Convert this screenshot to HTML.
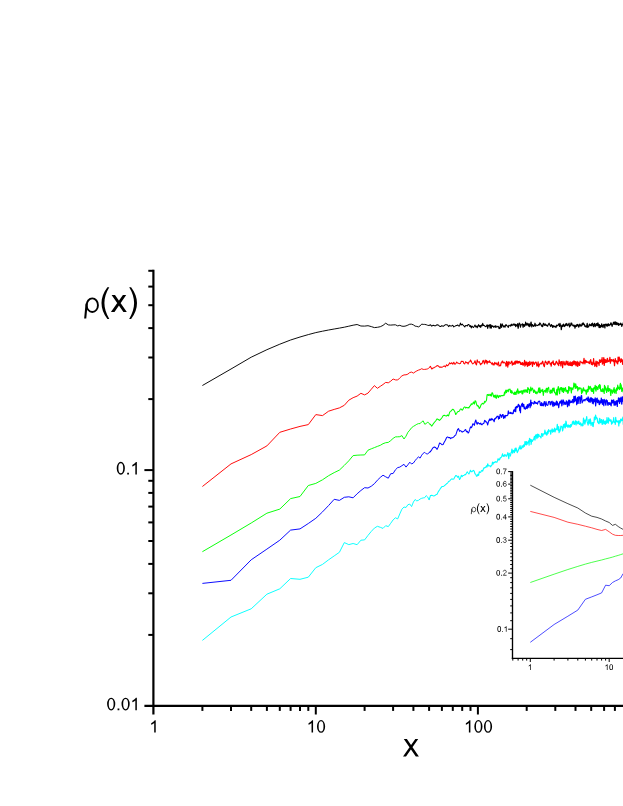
<!DOCTYPE html>
<html><head><meta charset="utf-8"><title>rho(x)</title>
<style>html,body{margin:0;padding:0;background:#fff;font-family:"Liberation Sans",sans-serif;}svg{display:block;}path.sd{fill:none;stroke:#000;stroke-width:88px;stroke-linejoin:miter;stroke-miterlimit:10;}text{font-family:"Liberation Sans",sans-serif;fill:#000;text-rendering:geometricPrecision;}</style></head><body>
<svg width="623" height="806" viewBox="0 0 623 806" role="img" aria-label="rho(x) versus X, log-log plot with inset">
<rect width="623" height="806" fill="#fff"/>
<polyline points="202.4,385.5 231.0,369.0 251.2,357.2 266.9,349.7 279.8,344.2 290.6,340.0 300.0,337.0 308.3,334.6 315.8,332.6 322.5,331.2 328.6,330.0 334.2,329.0 339.4,328.1 344.3,327.2 348.8,326.2 353.1,325.2 357.1,324.5 360.9,326.0 364.6,326.1 368.0,325.7 371.3,326.6 374.4,327.6 377.4,327.3 380.3,326.7 383.0,325.4 385.7,323.2 388.3,324.9 390.7,325.1 393.1,324.9 395.4,324.8 397.7,325.9 399.8,325.3 401.9,326.2 404.0,326.3 406.0,325.9 407.9,325.1 409.8,324.2 411.6,324.2 413.4,324.9 415.1,326.1 416.8,326.4 418.5,326.9 420.1,325.9 421.7,324.1 423.2,324.4 424.7,324.4 426.2,324.7 427.7,325.3 429.1,325.5" fill="none" stroke="#000000" stroke-width="0.95" stroke-linejoin="round"/>
<polyline points="429.1,325.5 430.5,324.8 431.8,326.2 433.2,325.2 434.5,325.7 435.8,325.7 437.1,324.7 438.3,325.0 439.5,326.2 440.7,326.5 441.9,325.6 443.1,326.4 444.2,325.6 445.4,324.7 446.5,324.8 447.6,324.9 448.6,326.6 449.7,325.4 450.7,326.1 451.8,325.9 452.8,325.3 453.8,326.9 454.8,326.4 455.7,325.7 456.7,325.6 457.6,325.0 458.6,325.9 459.5,326.1 460.4,323.1 461.3,325.0 462.2,324.1 463.1,325.1 463.9,325.9 464.8,327.0 465.6,325.4 466.5,325.6 467.3,326.0 468.1,324.4 468.9,324.4 469.7,326.6" fill="none" stroke="#000000" stroke-width="1.02" stroke-linejoin="round"/>
<polyline points="469.7,326.6 470.5,325.7 471.3,327.9 472.0,326.0 472.8,326.9 473.5,327.5 474.3,326.3 475.0,325.0 475.8,327.0 476.5,326.1 477.2,327.7 477.9,325.7 478.6,324.7 479.3,326.8 480.0,325.5 480.7,327.4 481.3,325.1 482.0,325.9 482.7,323.3 483.3,325.5 484.0,325.4 484.6,325.8 485.2,326.5 485.9,326.7 486.5,325.9 487.1,324.7 487.7,328.4 488.4,325.2 489.0,325.9 489.6,324.7 490.1,328.2 490.7,324.5 491.3,328.1 491.9,325.5 492.5,326.4 493.0,326.0 493.6,327.2 494.2,326.8 494.7,326.2 495.3,327.3 495.8,325.6 496.4,327.1 496.9,326.7 497.5,326.7 498.0,326.3 498.5,326.6 499.0,328.7 499.6,327.3 500.1,328.4 500.6,323.9 501.1,326.6 501.6,327.4 502.1,323.8 502.6,325.1 503.1,326.1 503.6,327.0 504.1,325.7 504.5,325.9 505.0,327.3 505.5,325.6 506.0,324.5 506.5,325.6 506.9,325.8 507.4,326.1 507.8,326.2 508.3,327.5 508.8,325.3 509.2,325.8 509.7,325.2" fill="none" stroke="#000000" stroke-width="1.1" stroke-linejoin="round"/>
<polyline points="509.7,325.2 510.1,325.3 510.6,326.1 511.0,324.8 511.4,324.2 511.9,325.6 512.3,325.3 512.7,324.9 513.2,324.0 513.6,324.9 514.0,324.3 514.4,324.1 514.9,325.5 515.3,324.4 515.7,326.7 516.1,324.5 516.5,325.0 516.9,325.5 517.3,326.1 517.7,323.7 518.1,328.3 518.5,326.9 518.9,324.6 519.3,323.0 519.7,323.9 520.1,324.0 520.5,327.1 520.8,325.1 521.2,324.9 521.6,324.7 522.0,324.7 522.4,323.8 522.7,325.2 523.1,327.3 523.5,324.3 523.8,325.9 524.2,325.1 524.6,326.4 524.9,324.3 525.3,325.2 525.6,322.0 526.0,325.0 526.4,325.1 526.7,324.1 527.1,323.2 527.4,323.8 527.8,325.0 528.1,325.4 528.5,323.9 528.8,326.1 529.1,323.8 529.5,324.1 529.8,326.7 530.1,325.3 530.5,325.4 530.8,323.0 531.1,322.0 531.8,326.9 532.5,324.5 533.1,325.3 533.7,326.4 534.4,325.6 535.0,323.2 535.6,326.2 536.2,325.0 536.9,325.1 537.5,325.6 538.1,325.3 538.7,324.4 539.3,325.0 539.8,322.9 540.4,323.6 541.0,324.8 541.6,326.2 542.1,325.2 542.7,326.7 543.3,323.5 543.8,323.3 544.4,325.4 544.9,325.0 545.5,324.1 546.0,325.5 546.5,325.0 547.1,325.9 547.6,326.2 548.1,324.8 548.6,324.0 549.1,323.2 549.6,324.9" fill="none" stroke="#000000" stroke-width="1.17" stroke-linejoin="round"/>
<polyline points="549.6,324.9 550.2,325.5 550.7,326.5 551.2,324.6 551.7,325.0 552.1,325.6 552.6,327.4 553.1,325.5 553.6,326.8 554.1,326.1 554.6,326.5 555.0,326.8 555.5,326.7 556.0,327.5 556.4,325.2 556.9,326.0 557.3,325.6 557.8,325.2 558.3,325.0 558.7,324.0 559.1,324.8 559.6,326.5 560.0,323.4 560.5,325.6 560.9,325.8 561.3,329.7 561.8,326.1 562.2,325.0 562.6,326.5 563.0,326.0 563.5,324.1 563.9,325.7 564.3,326.3 564.7,326.5 565.1,325.1 565.5,324.0 565.9,325.5 566.3,324.8 566.7,323.5 567.1,324.8 567.5,325.7 567.9,325.1 568.3,324.7 568.7,324.3 569.1,323.2 569.5,327.0 569.8,326.1 570.2,326.1 570.6,325.3 571.0,323.0 571.4,324.7 571.7,323.1 572.1,325.1 572.5,325.2 572.8,325.3 573.2,326.0 573.6,325.6 573.9,325.0 574.3,326.4 574.6,325.7 575.0,328.2 575.3,325.3 575.7,326.7 576.1,326.5 576.4,326.4 576.7,324.8 577.1,324.6 577.4,325.6 577.8,324.4 578.1,325.6 578.5,326.7 578.8,327.0 579.1,325.1 579.5,325.5 579.8,324.2 580.1,325.9 580.6,325.0 581.1,326.1 581.6,325.8 582.1,323.7 582.6,324.8 583.0,322.9 583.5,323.3 584.0,324.7 584.4,324.5 584.9,326.4 585.4,326.6 585.8,326.0 586.3,327.1 586.7,326.2 587.2,323.3 587.6,327.3 588.1,326.2 588.5,326.9 588.9,325.9 589.4,324.1 589.8,324.7 590.2,325.6 590.7,325.0 591.1,325.4 591.5,323.9 591.9,325.9 592.4,323.2 592.8,324.6 593.2,324.4 593.6,326.6 594.0,324.8 594.4,323.3 594.8,323.9 595.2,326.6 595.6,325.1 596.0,325.0 596.4,323.7 596.8,325.6 597.2,323.5 597.6,325.6 597.9,322.9 598.3,324.2 598.7,325.7 599.1,327.6 599.5,324.6 599.8,326.5 600.2,327.5 600.6,325.6 601.0,326.7 601.3,326.4 601.7,323.9 602.1,326.7 602.4,326.4 602.8,325.3 603.1,327.5 603.5,324.9 603.8,324.5 604.2,325.6 604.5,325.4 604.9,327.9 605.2,324.2 605.6,324.7 605.9,324.9 606.3,324.5 606.6,326.0 607.0,324.2 607.3,325.1 607.6,326.2 608.0,325.7 608.3,323.9 608.6,323.9 609.1,325.7 609.5,324.8 609.9,324.9 610.4,324.7 610.8,322.8 611.2,323.2 611.6,324.7 612.1,326.4 612.5,324.7 612.9,324.5 613.3,322.7 613.7,323.9 614.1,321.8 614.5,323.4 614.9,324.4 615.3,322.4 615.7,322.0 616.1,324.6 616.5,324.4 616.9,322.5 617.3,323.8 617.7,324.6 618.1,323.5 618.5,325.3 618.8,323.4 619.2,324.8 619.6,324.3 620.0,324.7 620.4,324.5 620.7,323.1 621.1,324.3 621.5,324.2 621.8,326.4 622.2,324.9 622.6,324.2 622.9,324.6 623.3,322.7 623.6,324.6 624.0,326.4 624.3,323.6 624.7,324.6 625.0,323.4 625.4,326.6 625.7,323.3 626.1,325.9 626.4,325.2 626.8,323.9 627.1,323.4 627.4,326.3 627.8,323.8 628.1,327.1 628.4,325.3 628.8,325.6" fill="none" stroke="#000000" stroke-width="1.22" stroke-linejoin="round"/>
<polyline points="202.4,486.5 231.0,463.9 251.2,454.6 266.9,445.9 279.8,432.3 290.6,429.0 300.0,426.4 308.3,424.6 315.8,414.6 322.5,415.6 328.6,411.2 334.2,409.4 339.4,407.9 344.3,405.3 348.8,400.2 353.1,397.7 357.1,396.1 360.9,393.3 364.6,394.9 368.0,393.1 371.3,389.2 374.4,385.6 377.4,388.3 380.3,386.3 383.0,384.5 385.7,382.4 388.3,382.8 390.7,381.2 393.1,379.0 395.4,379.9 397.7,380.0 399.8,377.9 401.9,375.9 404.0,374.9 406.0,374.8 407.9,374.1 409.8,372.5 411.6,372.1 413.4,373.1 415.1,371.9 416.8,370.9 418.5,370.1 420.1,369.6 421.7,368.7 423.2,369.4 424.7,369.4 426.2,369.2 427.7,369.0 429.1,367.6" fill="none" stroke="#ff0000" stroke-width="0.95" stroke-linejoin="round"/>
<polyline points="429.1,367.6 430.5,366.4 431.8,369.0 433.2,367.9 434.5,367.4 435.8,366.6 437.1,365.6 438.3,365.9 439.5,367.2 440.7,366.9 441.9,367.2 443.1,366.6 444.2,365.8 445.4,366.9 446.5,364.8 447.6,365.8 448.6,364.7 449.7,362.8 450.7,363.8 451.8,362.7 452.8,364.3 453.8,362.3 454.8,364.2 455.7,363.7 456.7,362.0 457.6,363.1 458.6,363.2 459.5,363.7 460.4,363.6 461.3,361.3 462.2,361.6 463.1,361.3 463.9,363.6 464.8,363.9 465.6,361.7 466.5,362.7 467.3,362.5 468.1,364.1 468.9,361.9 469.7,362.1" fill="none" stroke="#ff0000" stroke-width="1.02" stroke-linejoin="round"/>
<polyline points="469.7,362.1 470.5,360.0 471.3,361.5 472.0,363.0 472.8,363.9 473.5,363.4 474.3,362.6 475.0,360.7 475.8,363.9 476.5,364.8 477.2,359.9 477.9,361.9 478.6,362.2 479.3,361.6 480.0,363.6 480.7,364.8 481.3,363.5 482.0,363.6 482.7,361.4 483.3,360.4 484.0,362.6 484.6,364.0 485.2,360.0 485.9,362.3 486.5,360.4 487.1,364.0 487.7,361.2 488.4,362.1 489.0,362.4 489.6,360.7 490.1,362.3 490.7,362.6 491.3,363.1 491.9,364.1 492.5,362.8 493.0,364.9 493.6,363.7 494.2,364.9 494.7,362.4 495.3,363.1 495.8,363.9 496.4,363.0 496.9,364.5 497.5,365.0 498.0,363.1 498.5,362.0 499.0,366.2 499.6,365.6 500.1,365.1 500.6,365.8 501.1,362.7 501.6,362.9 502.1,361.2 502.6,361.0 503.1,363.0 503.6,362.8 504.1,362.1 504.5,362.8 505.0,363.0 505.5,363.2 506.0,366.3 506.5,361.4 506.9,365.8 507.4,362.0 507.8,367.2 508.3,361.7 508.8,364.8 509.2,361.9 509.7,363.0" fill="none" stroke="#ff0000" stroke-width="1.1" stroke-linejoin="round"/>
<polyline points="509.7,363.0 510.1,363.6 510.6,363.2 511.0,362.5 511.4,361.6 511.9,361.1 512.3,365.2 512.7,363.6 513.2,362.9 513.6,364.4 514.0,364.3 514.4,362.6 514.9,361.4 515.3,364.1 515.7,361.1 516.1,362.2 516.5,362.9 516.9,360.8 517.3,362.9 517.7,361.3 518.1,363.3 518.5,361.6 518.9,362.5 519.3,361.3 519.7,362.6 520.1,362.2 520.5,364.3 520.8,362.4 521.2,364.5 521.6,363.8 522.0,364.4 522.4,362.5 522.7,362.8 523.1,365.3 523.5,363.5 523.8,364.3 524.2,363.0 524.6,360.4 524.9,366.1 525.3,365.3 525.6,362.3 526.0,361.8 526.4,364.7 526.7,364.0 527.1,362.2 527.4,366.4 527.8,363.6 528.1,364.8 528.5,362.4 528.8,365.6 529.1,363.8 529.5,365.2 529.8,361.4 530.1,363.8 530.5,364.6 530.8,362.8 531.1,363.0 531.8,362.0 532.5,366.4 533.1,361.8 533.7,362.9 534.4,364.4 535.0,362.8 535.6,362.0 536.2,362.3 536.9,366.2 537.5,365.6 538.1,361.9 538.7,366.9 539.3,365.0 539.8,363.9 540.4,364.0 541.0,363.0 541.6,364.0 542.1,362.6 542.7,361.2 543.3,363.8 543.8,365.6 544.4,366.7 544.9,362.7 545.5,361.0 546.0,362.5 546.5,362.6 547.1,364.5 547.6,364.1 548.1,361.4 548.6,363.0 549.1,361.2 549.6,362.4" fill="none" stroke="#ff0000" stroke-width="1.17" stroke-linejoin="round"/>
<polyline points="549.6,362.4 550.2,364.0 550.7,363.5 551.2,366.2 551.7,362.3 552.1,362.3 552.6,362.9 553.1,360.9 553.6,364.5 554.1,363.5 554.6,365.0 555.0,364.5 555.5,364.1 556.0,362.0 556.4,361.3 556.9,362.7 557.3,362.9 557.8,364.2 558.3,364.8 558.7,365.6 559.1,359.8 559.6,363.4 560.0,361.8 560.5,363.1 560.9,366.0 561.3,361.6 561.8,362.2 562.2,361.5 562.6,367.6 563.0,363.3 563.5,364.1 563.9,361.4 564.3,362.7 564.7,365.0 565.1,365.0 565.5,364.5 565.9,362.0 566.3,361.1 566.7,362.1 567.1,364.6 567.5,363.6 567.9,361.4 568.3,365.3 568.7,363.3 569.1,364.4 569.5,362.8 569.8,365.5 570.2,361.9 570.6,364.3 571.0,365.5 571.4,365.7 571.7,362.3 572.1,363.4 572.5,365.6 572.8,361.7 573.2,362.7 573.6,364.3 573.9,360.8 574.3,363.3 574.6,361.3 575.0,364.6 575.3,361.7 575.7,362.3 576.1,365.8 576.4,364.3 576.7,363.2 577.1,361.3 577.4,364.9 577.8,366.5 578.1,362.2 578.5,364.9 578.8,364.1 579.1,363.0 579.5,365.5 579.8,364.4 580.1,361.2 580.6,362.0 581.1,362.0 581.6,362.8 582.1,362.2 582.6,362.5 583.0,363.8 583.5,362.6 584.0,358.3 584.4,361.7 584.9,363.8 585.4,360.3 585.8,360.5 586.3,362.4 586.7,361.4 587.2,362.1 587.6,362.2 588.1,362.6 588.5,362.0 588.9,362.9 589.4,363.6 589.8,361.5 590.2,361.0 590.7,359.6 591.1,363.9 591.5,364.3 591.9,362.0 592.4,364.8 592.8,363.3 593.2,364.2 593.6,358.5 594.0,363.7 594.4,363.0 594.8,366.3 595.2,365.0 595.6,363.7 596.0,361.2 596.4,365.9 596.8,366.6 597.2,361.5 597.6,363.0 597.9,362.5 598.3,363.6 598.7,362.6 599.1,365.3 599.5,359.8 599.8,360.3 600.2,360.6 600.6,362.5 601.0,359.9 601.3,361.1 601.7,361.7 602.1,357.6 602.4,364.2 602.8,362.6 603.1,363.2 603.5,359.8 603.8,357.7 604.2,365.5 604.5,363.5 604.9,359.4 605.2,361.1 605.6,362.5 605.9,359.9 606.3,361.9 606.6,360.5 607.0,362.5 607.3,358.3 607.6,359.0 608.0,360.6 608.3,361.5 608.6,361.2 609.1,361.3 609.5,360.6 609.9,357.3 610.4,363.1 610.8,359.9 611.2,361.1 611.6,359.5 612.1,360.4 612.5,360.7 612.9,361.0 613.3,359.3 613.7,361.7 614.1,360.7 614.5,365.7 614.9,360.7 615.3,358.6 615.7,361.6 616.1,361.8 616.5,360.9 616.9,362.8 617.3,363.4 617.7,363.9 618.1,357.0 618.5,361.7 618.8,360.3 619.2,357.0 619.6,359.3 620.0,361.0 620.4,360.3 620.7,362.3 621.1,358.7 621.5,359.6 621.8,361.4 622.2,359.9 622.6,364.3 622.9,360.3 623.3,361.4 623.6,360.1 624.0,358.2 624.3,361.5 624.7,358.4 625.0,360.7 625.4,363.0 625.7,362.6 626.1,362.7 626.4,364.3 626.8,361.6 627.1,360.5 627.4,363.3 627.8,364.5 628.1,363.5 628.4,364.5 628.8,361.6" fill="none" stroke="#ff0000" stroke-width="1.22" stroke-linejoin="round"/>
<polyline points="202.4,551.7 231.0,535.0 251.2,523.0 266.9,513.2 279.8,509.1 290.6,498.6 300.0,496.5 308.3,485.5 315.8,483.4 322.5,479.8 328.6,475.7 334.2,472.6 339.4,470.1 344.3,465.4 348.8,460.8 353.1,455.6 357.1,455.2 360.9,455.0 364.6,454.9 368.0,450.2 371.3,448.8 374.4,447.6 377.4,446.4 380.3,445.3 383.0,443.7 385.7,442.7 388.3,442.4 390.7,440.6 393.1,438.4 395.4,436.9 397.7,436.8 399.8,436.7 401.9,435.6 404.0,439.0 406.0,436.2 407.9,432.3 409.8,430.1 411.6,427.7 413.4,426.4 415.1,425.4 416.8,424.3 418.5,423.6 420.1,423.6 421.7,421.8 423.2,420.9 424.7,424.2 426.2,423.7 427.7,421.9 429.1,423.6" fill="none" stroke="#00ff00" stroke-width="0.95" stroke-linejoin="round"/>
<polyline points="429.1,423.6 430.5,424.5 431.8,426.1 433.2,423.9 434.5,422.3 435.8,420.7 437.1,418.9 438.3,419.5 439.5,420.4 440.7,419.2 441.9,417.7 443.1,415.7 444.2,415.2 445.4,415.8 446.5,416.0 447.6,415.0 448.6,415.9 449.7,412.1 450.7,411.3 451.8,410.1 452.8,409.2 453.8,410.0 454.8,411.7 455.7,414.6 456.7,413.2 457.6,411.7 458.6,411.6 459.5,410.8 460.4,409.1 461.3,409.1 462.2,410.3 463.1,409.1 463.9,407.4 464.8,406.8 465.6,408.1 466.5,407.3 467.3,407.9 468.1,407.5 468.9,408.0 469.7,406.0" fill="none" stroke="#00ff00" stroke-width="1.02" stroke-linejoin="round"/>
<polyline points="469.7,406.0 470.5,405.7 471.3,403.7 472.0,404.5 472.8,403.5 473.5,402.1 474.3,404.1 475.0,400.8 475.8,401.3 476.5,404.0 477.2,405.9 477.9,405.5 478.6,406.6 479.3,408.5 480.0,407.6 480.7,405.8 481.3,404.4 482.0,403.8 482.7,403.3 483.3,404.0 484.0,403.3 484.6,401.3 485.2,402.2 485.9,401.2 486.5,400.2 487.1,394.8 487.7,394.6 488.4,395.5 489.0,394.2 489.6,395.1 490.1,395.6 490.7,394.2 491.3,396.2 491.9,392.8 492.5,392.8 493.0,394.5 493.6,396.9 494.2,395.4 494.7,397.3 495.3,395.1 495.8,397.9 496.4,398.3 496.9,395.1 497.5,395.4 498.0,397.1 498.5,397.7 499.0,395.5 499.6,395.7 500.1,396.8 500.6,395.7 501.1,395.6 501.6,395.9 502.1,395.5 502.6,395.6 503.1,395.7 503.6,395.1 504.1,395.4 504.5,392.1 505.0,394.0 505.5,391.1 506.0,390.1 506.5,392.6 506.9,390.8 507.4,390.1 507.8,390.7 508.3,391.7 508.8,389.2 509.2,389.6 509.7,388.9" fill="none" stroke="#00ff00" stroke-width="1.1" stroke-linejoin="round"/>
<polyline points="509.7,388.9 510.1,389.4 510.6,392.5 511.0,390.6 511.4,393.1 511.9,390.9 512.3,392.4 512.7,392.9 513.2,393.3 513.6,394.1 514.0,394.3 514.4,392.1 514.9,394.5 515.3,392.3 515.7,394.2 516.1,394.4 516.5,391.3 516.9,392.2 517.3,390.4 517.7,388.9 518.1,393.6 518.5,391.1 518.9,393.0 519.3,393.0 519.7,391.5 520.1,391.2 520.5,392.4 520.8,391.4 521.2,391.3 521.6,390.8 522.0,393.7 522.4,390.9 522.7,393.9 523.1,392.6 523.5,390.3 523.8,391.2 524.2,389.9 524.6,391.2 524.9,392.4 525.3,391.2 525.6,389.9 526.0,390.0 526.4,390.8 526.7,392.0 527.1,389.6 527.4,392.4 527.8,387.5 528.1,388.7 528.5,388.3 528.8,389.7 529.1,389.3 529.5,393.5 529.8,391.7 530.1,389.7 530.5,389.9 530.8,387.0 531.1,390.8 531.8,389.0 532.5,388.1 533.1,390.1 533.7,392.5 534.4,390.0 535.0,391.2 535.6,393.4 536.2,391.8 536.9,393.8 537.5,392.2 538.1,391.8 538.7,388.0 539.3,392.6 539.8,387.8 540.4,392.7 541.0,390.2 541.6,390.2 542.1,391.4 542.7,389.4 543.3,395.3 543.8,392.0 544.4,390.7 544.9,390.4 545.5,392.1 546.0,389.5 546.5,388.3 547.1,392.6 547.6,388.4 548.1,388.5 548.6,387.4 549.1,391.5 549.6,391.3" fill="none" stroke="#00ff00" stroke-width="1.17" stroke-linejoin="round"/>
<polyline points="549.6,391.3 550.2,393.4 550.7,390.2 551.2,390.1 551.7,392.8 552.1,392.8 552.6,388.6 553.1,388.1 553.6,390.8 554.1,388.2 554.6,392.7 555.0,392.8 555.5,393.0 556.0,395.0 556.4,392.0 556.9,389.3 557.3,395.0 557.8,389.1 558.3,386.6 558.7,389.7 559.1,389.7 559.6,393.7 560.0,388.2 560.5,389.1 560.9,387.5 561.3,389.8 561.8,387.6 562.2,391.7 562.6,388.7 563.0,388.5 563.5,392.4 563.9,388.2 564.3,390.9 564.7,388.9 565.1,389.2 565.5,387.7 565.9,391.3 566.3,391.0 566.7,390.2 567.1,392.0 567.5,390.7 567.9,393.3 568.3,392.5 568.7,386.7 569.1,390.6 569.5,387.0 569.8,388.3 570.2,387.8 570.6,387.9 571.0,390.1 571.4,392.8 571.7,387.9 572.1,388.6 572.5,389.0 572.8,389.6 573.2,387.6 573.6,387.1 573.9,383.1 574.3,383.8 574.6,386.5 575.0,386.3 575.3,388.4 575.7,383.9 576.1,386.8 576.4,387.4 576.7,386.4 577.1,388.5 577.4,386.6 577.8,390.8 578.1,387.5 578.5,388.6 578.8,389.1 579.1,388.8 579.5,387.7 579.8,388.9 580.1,388.0 580.6,388.2 581.1,388.3 581.6,393.7 582.1,390.2 582.6,392.2 583.0,388.9 583.5,387.8 584.0,390.4 584.4,390.7 584.9,390.0 585.4,391.2 585.8,390.3 586.3,394.2 586.7,390.5 587.2,389.5 587.6,391.8 588.1,391.3 588.5,386.2 588.9,389.6 589.4,388.6 589.8,387.0 590.2,386.5 590.7,387.4 591.1,390.3 591.5,391.3 591.9,388.5 592.4,391.5 592.8,391.2 593.2,388.6 593.6,393.3 594.0,387.5 594.4,388.8 594.8,388.6 595.2,385.4 595.6,389.3 596.0,391.1 596.4,386.3 596.8,389.0 597.2,387.3 597.6,389.5 597.9,389.6 598.3,386.8 598.7,385.6 599.1,386.9 599.5,384.7 599.8,388.5 600.2,385.1 600.6,389.5 601.0,391.4 601.3,389.9 601.7,390.2 602.1,391.7 602.4,391.0 602.8,388.5 603.1,389.6 603.5,391.6 603.8,390.3 604.2,393.4 604.5,385.4 604.9,388.6 605.2,386.5 605.6,389.1 605.9,390.4 606.3,390.0 606.6,392.5 607.0,388.0 607.3,390.5 607.6,390.4 608.0,385.6 608.3,391.4 608.6,391.1 609.1,388.7 609.5,390.5 609.9,388.9 610.4,391.9 610.8,395.5 611.2,389.8 611.6,391.6 612.1,390.0 612.5,393.2 612.9,392.1 613.3,391.4 613.7,389.3 614.1,387.6 614.5,392.8 614.9,389.8 615.3,390.9 615.7,390.2 616.1,393.5 616.5,388.0 616.9,388.1 617.3,390.2 617.7,385.2 618.1,388.9 618.5,387.2 618.8,387.8 619.2,388.6 619.6,389.5 620.0,385.5 620.4,383.4 620.7,388.6 621.1,384.9 621.5,388.0 621.8,391.5 622.2,388.5 622.6,389.3 622.9,387.9 623.3,392.1 623.6,389.9 624.0,387.5 624.3,387.8 624.7,390.9 625.0,386.7 625.4,391.9 625.7,388.3 626.1,386.2 626.4,388.7 626.8,388.3 627.1,388.7 627.4,391.0 627.8,385.1 628.1,387.5 628.4,390.0 628.8,389.2" fill="none" stroke="#00ff00" stroke-width="1.22" stroke-linejoin="round"/>
<polyline points="202.4,583.4 231.0,580.3 251.2,559.8 266.9,549.1 279.8,540.2 290.6,530.1 300.0,528.9 308.3,523.5 315.8,518.3 322.5,511.9 328.6,505.5 334.2,499.3 339.4,500.4 344.3,497.3 348.8,496.8 353.1,497.8 357.1,493.8 360.9,490.5 364.6,487.7 368.0,488.0 371.3,486.2 374.4,483.7 377.4,480.2 380.3,477.4 383.0,475.2 385.7,476.8 388.3,478.2 390.7,473.7 393.1,473.5 395.4,469.8 397.7,467.6 399.8,467.1 401.9,465.7 404.0,464.3 406.0,467.1 407.9,464.8 409.8,462.2 411.6,464.0 413.4,463.0 415.1,460.7 416.8,458.5 418.5,456.9 420.1,458.1 421.7,455.2 423.2,453.3 424.7,452.3 426.2,453.8 427.7,453.9 429.1,452.7" fill="none" stroke="#0000ff" stroke-width="0.95" stroke-linejoin="round"/>
<polyline points="429.1,452.7 430.5,451.5 431.8,449.6 433.2,447.4 434.5,447.0 435.8,447.7 437.1,449.4 438.3,446.9 439.5,443.1 440.7,443.5 441.9,444.7 443.1,444.4 444.2,442.3 445.4,440.2 446.5,437.7 447.6,436.9 448.6,437.7 449.7,437.4 450.7,438.6 451.8,437.7 452.8,437.7 453.8,436.8 454.8,435.6 455.7,435.1 456.7,432.1 457.6,429.5 458.6,428.6 459.5,431.3 460.4,430.6 461.3,431.1 462.2,432.2 463.1,431.5 463.9,431.3 464.8,430.2 465.6,429.5 466.5,431.8 467.3,431.2 468.1,433.1 468.9,432.1 469.7,429.4" fill="none" stroke="#0000ff" stroke-width="1.02" stroke-linejoin="round"/>
<polyline points="469.7,429.4 470.5,426.9 471.3,427.7 472.0,426.6 472.8,423.9 473.5,424.0 474.3,425.3 475.0,422.3 475.8,420.0 476.5,422.7 477.2,424.3 477.9,422.4 478.6,423.2 479.3,423.5 480.0,424.2 480.7,423.1 481.3,424.3 482.0,424.8 482.7,423.7 483.3,423.7 484.0,423.0 484.6,420.4 485.2,420.7 485.9,421.9 486.5,421.9 487.1,423.1 487.7,425.0 488.4,421.9 489.0,420.6 489.6,419.0 490.1,420.5 490.7,419.0 491.3,420.0 491.9,418.4 492.5,419.8 493.0,419.6 493.6,420.2 494.2,421.7 494.7,418.5 495.3,418.9 495.8,417.7 496.4,417.9 496.9,416.3 497.5,416.5 498.0,416.1 498.5,419.1 499.0,416.9 499.6,418.5 500.1,414.4 500.6,415.0 501.1,415.5 501.6,417.4 502.1,415.9 502.6,414.5 503.1,414.6 503.6,418.5 504.1,416.5 504.5,415.8 505.0,417.9 505.5,415.3 506.0,415.9 506.5,415.5 506.9,415.8 507.4,415.3 507.8,415.0 508.3,410.9 508.8,413.6 509.2,413.5 509.7,413.3" fill="none" stroke="#0000ff" stroke-width="1.1" stroke-linejoin="round"/>
<polyline points="509.7,413.3 510.1,412.2 510.6,413.5 511.0,412.6 511.4,413.0 511.9,413.6 512.3,413.0 512.7,413.7 513.2,413.3 513.6,410.6 514.0,409.8 514.4,409.9 514.9,411.5 515.3,407.7 515.7,411.6 516.1,406.7 516.5,406.4 516.9,407.7 517.3,407.4 517.7,406.6 518.1,404.8 518.5,404.3 518.9,406.5 519.3,405.4 519.7,410.6 520.1,407.3 520.5,412.7 520.8,406.0 521.2,406.5 521.6,404.3 522.0,404.0 522.4,403.2 522.7,406.6 523.1,406.7 523.5,404.4 523.8,404.3 524.2,408.7 524.6,407.1 524.9,408.1 525.3,409.2 525.6,408.3 526.0,408.3 526.4,406.2 526.7,407.2 527.1,408.7 527.4,404.6 527.8,407.7 528.1,407.7 528.5,406.4 528.8,404.1 529.1,404.8 529.5,405.4 529.8,403.5 530.1,407.7 530.5,402.9 530.8,400.1 531.1,406.0 531.8,402.7 532.5,402.8 533.1,403.4 533.7,404.0 534.4,401.4 535.0,403.2 535.6,402.2 536.2,403.5 536.9,402.8 537.5,404.1 538.1,402.0 538.7,401.5 539.3,401.0 539.8,401.7 540.4,405.2 541.0,405.6 541.6,402.6 542.1,405.6 542.7,403.9 543.3,405.8 543.8,403.4 544.4,401.5 544.9,404.5 545.5,406.2 546.0,401.5 546.5,404.6 547.1,405.0 547.6,405.4 548.1,404.2 548.6,401.7 549.1,401.7 549.6,401.1" fill="none" stroke="#0000ff" stroke-width="1.17" stroke-linejoin="round"/>
<polyline points="549.6,401.1 550.2,404.6 550.7,404.8 551.2,401.8 551.7,402.0 552.1,401.2 552.6,405.1 553.1,406.5 553.6,402.2 554.1,402.9 554.6,405.7 555.0,403.0 555.5,403.0 556.0,404.8 556.4,401.2 556.9,404.8 557.3,401.8 557.8,404.9 558.3,404.0 558.7,407.7 559.1,404.5 559.6,402.3 560.0,401.6 560.5,403.0 560.9,402.0 561.3,400.2 561.8,405.8 562.2,404.1 562.6,401.4 563.0,399.8 563.5,400.8 563.9,404.6 564.3,402.0 564.7,403.2 565.1,403.9 565.5,402.7 565.9,404.5 566.3,400.8 566.7,401.4 567.1,401.3 567.5,406.6 567.9,403.0 568.3,404.4 568.7,400.2 569.1,405.7 569.5,402.2 569.8,400.1 570.2,402.4 570.6,402.6 571.0,402.1 571.4,401.3 571.7,402.3 572.1,401.8 572.5,399.8 572.8,399.6 573.2,402.9 573.6,400.6 573.9,396.4 574.3,396.7 574.6,401.8 575.0,399.7 575.3,396.0 575.7,400.7 576.1,400.3 576.4,399.0 576.7,404.6 577.1,401.9 577.4,397.3 577.8,400.4 578.1,403.4 578.5,400.0 578.8,396.7 579.1,397.6 579.5,397.1 579.8,398.0 580.1,403.4 580.6,399.9 581.1,396.0 581.6,395.6 582.1,402.8 582.6,401.5 583.0,401.0 583.5,400.3 584.0,399.7 584.4,399.6 584.9,400.9 585.4,399.6 585.8,399.2 586.3,399.2 586.7,398.1 587.2,400.4 587.6,400.4 588.1,396.9 588.5,401.6 588.9,398.0 589.4,401.6 589.8,399.5 590.2,402.3 590.7,397.9 591.1,397.7 591.5,401.2 591.9,398.3 592.4,403.1 592.8,398.9 593.2,403.8 593.6,401.2 594.0,399.3 594.4,401.7 594.8,400.5 595.2,397.9 595.6,405.8 596.0,402.7 596.4,398.9 596.8,401.6 597.2,398.1 597.6,402.6 597.9,402.3 598.3,401.7 598.7,400.0 599.1,404.3 599.5,404.6 599.8,403.4 600.2,400.9 600.6,403.0 601.0,402.4 601.3,398.1 601.7,402.7 602.1,400.2 602.4,404.3 602.8,399.6 603.1,402.8 603.5,403.5 603.8,405.7 604.2,399.3 604.5,401.6 604.9,400.4 605.2,402.1 605.6,404.2 605.9,405.2 606.3,399.8 606.6,400.2 607.0,401.2 607.3,400.7 607.6,404.0 608.0,405.3 608.3,404.1 608.6,402.6 609.1,402.9 609.5,404.4 609.9,402.6 610.4,404.8 610.8,404.0 611.2,405.8 611.6,400.1 612.1,400.3 612.5,402.8 612.9,402.9 613.3,400.3 613.7,399.9 614.1,405.2 614.5,404.9 614.9,401.6 615.3,404.7 615.7,405.0 616.1,401.0 616.5,403.8 616.9,400.7 617.3,406.4 617.7,400.7 618.1,401.5 618.5,397.8 618.8,398.8 619.2,401.5 619.6,403.5 620.0,398.0 620.4,399.2 620.7,401.4 621.1,397.2 621.5,402.6 621.8,404.2 622.2,399.0 622.6,396.8 622.9,401.2 623.3,401.4 623.6,398.0 624.0,398.1 624.3,398.2 624.7,397.6 625.0,399.4 625.4,400.2 625.7,397.9 626.1,401.1 626.4,400.7 626.8,398.9 627.1,401.6 627.4,399.8 627.8,399.4 628.1,399.8 628.4,397.3 628.8,400.1" fill="none" stroke="#0000ff" stroke-width="1.22" stroke-linejoin="round"/>
<polyline points="202.4,640.4 231.0,617.0 251.2,608.8 266.9,594.2 279.8,588.8 290.6,578.5 300.0,579.3 308.3,577.2 315.8,567.7 322.5,564.4 328.6,559.8 334.2,555.9 339.4,552.3 344.3,542.6 348.8,544.6 353.1,543.5 357.1,544.7 360.9,540.2 364.6,539.9 368.0,535.4 371.3,531.4 374.4,528.1 377.4,526.3 380.3,527.3 383.0,528.4 385.7,525.7 388.3,526.6 390.7,523.3 393.1,519.9 395.4,517.8 397.7,518.9 399.8,513.9 401.9,509.2 404.0,507.0 406.0,507.5 407.9,504.7 409.8,504.1 411.6,506.6 413.4,502.0 415.1,499.5 416.8,500.9 418.5,500.3 420.1,499.0 421.7,498.3 423.2,497.9 424.7,497.7 426.2,495.6 427.7,497.0 429.1,500.0" fill="none" stroke="#00ffff" stroke-width="0.95" stroke-linejoin="round"/>
<polyline points="429.1,500.0 430.5,495.4 431.8,495.2 433.2,495.9 434.5,495.8 435.8,494.8 437.1,494.3 438.3,491.6 439.5,490.0 440.7,488.1 441.9,486.6 443.1,486.6 444.2,485.9 445.4,484.8 446.5,483.8 447.6,483.1 448.6,481.4 449.7,481.0 450.7,479.7 451.8,478.8 452.8,479.2 453.8,478.9 454.8,477.0 455.7,475.6 456.7,475.7 457.6,477.3 458.6,476.2 459.5,479.6 460.4,478.3 461.3,475.3 462.2,476.6 463.1,475.4 463.9,475.5 464.8,474.6 465.6,474.8 466.5,473.0 467.3,471.8 468.1,473.0 468.9,474.0 469.7,472.2" fill="none" stroke="#00ffff" stroke-width="1.02" stroke-linejoin="round"/>
<polyline points="469.7,472.2 470.5,470.2 471.3,471.7 472.0,471.8 472.8,470.7 473.5,470.4 474.3,471.4 475.0,473.8 475.8,474.4 476.5,476.2 477.2,476.0 477.9,474.3 478.6,475.4 479.3,471.7 480.0,472.5 480.7,472.3 481.3,471.0 482.0,470.4 482.7,471.1 483.3,469.3 484.0,467.7 484.6,468.0 485.2,467.4 485.9,467.2 486.5,465.7 487.1,466.9 487.7,463.8 488.4,465.6 489.0,466.2 489.6,465.7 490.1,465.7 490.7,466.8 491.3,465.6 491.9,465.1 492.5,462.1 493.0,464.2 493.6,462.5 494.2,462.2 494.7,462.7 495.3,461.6 495.8,461.9 496.4,462.0 496.9,462.3 497.5,460.9 498.0,458.7 498.5,460.0 499.0,459.0 499.6,459.9 500.1,457.8 500.6,458.0 501.1,457.3 501.6,456.8 502.1,455.2 502.6,453.8 503.1,456.3 503.6,455.6 504.1,456.5 504.5,454.9 505.0,454.5 505.5,455.6 506.0,456.1 506.5,456.3 506.9,454.7 507.4,454.6 507.8,452.6 508.3,456.0 508.8,458.8 509.2,453.4 509.7,454.2" fill="none" stroke="#00ffff" stroke-width="1.1" stroke-linejoin="round"/>
<polyline points="509.7,454.2 510.1,456.1 510.6,455.2 511.0,452.6 511.4,452.7 511.9,449.0 512.3,450.7 512.7,453.2 513.2,450.7 513.6,451.7 514.0,450.3 514.4,452.6 514.9,449.1 515.3,448.2 515.7,450.8 516.1,448.1 516.5,449.8 516.9,450.9 517.3,452.6 517.7,451.1 518.1,451.1 518.5,449.4 518.9,448.8 519.3,447.1 519.7,448.8 520.1,445.5 520.5,448.1 520.8,449.1 521.2,448.0 521.6,448.6 522.0,445.8 522.4,446.1 522.7,447.1 523.1,447.4 523.5,444.9 523.8,445.4 524.2,446.4 524.6,445.8 524.9,441.7 525.3,444.4 525.6,443.7 526.0,441.7 526.4,444.9 526.7,441.7 527.1,444.5 527.4,442.6 527.8,442.9 528.1,443.0 528.5,440.8 528.8,441.8 529.1,445.2 529.5,438.4 529.8,441.7 530.1,440.0 530.5,440.5 530.8,439.2 531.1,444.5 531.8,439.9 532.5,441.3 533.1,439.8 533.7,439.1 534.4,436.4 535.0,440.1 535.6,435.2 536.2,434.7 536.9,438.7 537.5,434.1 538.1,437.4 538.7,434.4 539.3,435.8 539.8,436.4 540.4,436.5 541.0,438.0 541.6,433.5 542.1,433.6 542.7,436.4 543.3,434.0 543.8,433.9 544.4,433.9 544.9,430.2 545.5,434.0 546.0,432.2 546.5,435.1 547.1,434.8 547.6,431.0 548.1,433.4 548.6,429.7 549.1,431.2 549.6,431.5" fill="none" stroke="#00ffff" stroke-width="1.17" stroke-linejoin="round"/>
<polyline points="549.6,431.5 550.2,430.2 550.7,434.2 551.2,431.2 551.7,430.0 552.1,428.9 552.6,432.2 553.1,429.9 553.6,431.5 554.1,430.2 554.6,428.2 555.0,432.0 555.5,429.9 556.0,429.0 556.4,429.5 556.9,428.5 557.3,424.4 557.8,429.7 558.3,430.3 558.7,426.7 559.1,432.6 559.6,430.2 560.0,431.1 560.5,428.8 560.9,426.2 561.3,426.7 561.8,426.4 562.2,427.6 562.6,430.8 563.0,429.1 563.5,424.6 563.9,427.2 564.3,425.8 564.7,423.8 565.1,428.0 565.5,426.8 565.9,421.1 566.3,422.2 566.7,426.3 567.1,424.9 567.5,425.8 567.9,427.3 568.3,426.1 568.7,425.0 569.1,426.9 569.5,426.6 569.8,425.5 570.2,427.3 570.6,424.5 571.0,426.3 571.4,426.1 571.7,424.4 572.1,424.4 572.5,421.8 572.8,423.1 573.2,421.2 573.6,421.8 573.9,424.1 574.3,424.1 574.6,424.4 575.0,422.5 575.3,421.1 575.7,420.9 576.1,425.0 576.4,421.6 576.7,421.4 577.1,421.9 577.4,423.1 577.8,423.8 578.1,423.6 578.5,421.4 578.8,421.1 579.1,422.7 579.5,424.5 579.8,423.3 580.1,424.2 580.6,422.8 581.1,425.9 581.6,424.2 582.1,423.9 582.6,425.9 583.0,425.5 583.5,418.1 584.0,422.8 584.4,420.0 584.9,424.1 585.4,421.5 585.8,419.8 586.3,419.4 586.7,416.6 587.2,421.9 587.6,423.2 588.1,425.2 588.5,422.7 588.9,419.7 589.4,420.2 589.8,423.7 590.2,418.9 590.7,421.0 591.1,425.5 591.5,423.0 591.9,423.7 592.4,422.5 592.8,426.2 593.2,426.5 593.6,422.4 594.0,422.4 594.4,417.1 594.8,419.2 595.2,419.6 595.6,415.0 596.0,417.3 596.4,417.4 596.8,418.7 597.2,418.2 597.6,421.6 597.9,422.6 598.3,422.1 598.7,423.6 599.1,423.6 599.5,418.5 599.8,418.4 600.2,421.4 600.6,422.7 601.0,421.5 601.3,419.5 601.7,419.9 602.1,424.3 602.4,423.6 602.8,424.2 603.1,420.1 603.5,419.8 603.8,422.7 604.2,423.3 604.5,421.5 604.9,421.3 605.2,424.5 605.6,421.2 605.9,421.0 606.3,423.3 606.6,422.8 607.0,417.5 607.3,420.7 607.6,421.8 608.0,422.8 608.3,423.2 608.6,417.9 609.1,419.1 609.5,420.3 609.9,420.9 610.4,421.1 610.8,419.7 611.2,420.5 611.6,424.1 612.1,422.5 612.5,423.1 612.9,421.3 613.3,421.0 613.7,417.7 614.1,422.3 614.5,422.2 614.9,421.8 615.3,424.3 615.7,417.4 616.1,421.7 616.5,420.4 616.9,421.9 617.3,421.0 617.7,421.6 618.1,422.1 618.5,421.0 618.8,426.0 619.2,420.7 619.6,421.3 620.0,422.9 620.4,421.4 620.7,419.2 621.1,420.6 621.5,420.8 621.8,419.1 622.2,420.3 622.6,418.8 622.9,417.1 623.3,424.4 623.6,421.3 624.0,423.0 624.3,423.3 624.7,421.9 625.0,424.0 625.4,423.1 625.7,424.1 626.1,416.0 626.4,421.5 626.8,419.3 627.1,421.2 627.4,423.3 627.8,424.2 628.1,422.4 628.4,421.6 628.8,421.0" fill="none" stroke="#00ffff" stroke-width="1.22" stroke-linejoin="round"/>
<g stroke="#000" stroke-width="2" fill="none" stroke-linecap="butt">
<line x1="153.40" y1="269.8" x2="153.40" y2="714.5" stroke-width="2.2"/>
<line x1="144.4" y1="705.9" x2="623" y2="705.9" stroke-width="2.2"/>
<line x1="148.3" y1="634.9" x2="153.6" y2="634.9"/>
<line x1="148.3" y1="593.3" x2="153.6" y2="593.3"/>
<line x1="148.3" y1="563.9" x2="153.6" y2="563.9"/>
<line x1="148.3" y1="541.0" x2="153.6" y2="541.0"/>
<line x1="148.3" y1="522.4" x2="153.6" y2="522.4"/>
<line x1="148.3" y1="506.6" x2="153.6" y2="506.6"/>
<line x1="148.3" y1="492.9" x2="153.6" y2="492.9"/>
<line x1="148.3" y1="480.8" x2="153.6" y2="480.8"/>
<line x1="144.4" y1="470.1" x2="153.6" y2="470.1"/>
<line x1="148.3" y1="399.1" x2="153.6" y2="399.1"/>
<line x1="148.3" y1="357.5" x2="153.6" y2="357.5"/>
<line x1="148.3" y1="328.1" x2="153.6" y2="328.1"/>
<line x1="148.3" y1="305.2" x2="153.6" y2="305.2"/>
<line x1="148.3" y1="286.6" x2="153.6" y2="286.6"/>
<line x1="148.3" y1="270.8" x2="153.6" y2="270.8"/>
<line x1="202.4" y1="705.9" x2="202.4" y2="710.9"/>
<line x1="231.0" y1="705.9" x2="231.0" y2="710.9"/>
<line x1="251.2" y1="705.9" x2="251.2" y2="710.9"/>
<line x1="266.9" y1="705.9" x2="266.9" y2="710.9"/>
<line x1="279.8" y1="705.9" x2="279.8" y2="710.9"/>
<line x1="290.6" y1="705.9" x2="290.6" y2="710.9"/>
<line x1="300.0" y1="705.9" x2="300.0" y2="710.9"/>
<line x1="308.3" y1="705.9" x2="308.3" y2="710.9"/>
<line x1="315.8" y1="705.9" x2="315.8" y2="714.5"/>
<line x1="364.6" y1="705.9" x2="364.6" y2="710.9"/>
<line x1="393.1" y1="705.9" x2="393.1" y2="710.9"/>
<line x1="413.4" y1="705.9" x2="413.4" y2="710.9"/>
<line x1="429.1" y1="705.9" x2="429.1" y2="710.9"/>
<line x1="441.9" y1="705.9" x2="441.9" y2="710.9"/>
<line x1="452.8" y1="705.9" x2="452.8" y2="710.9"/>
<line x1="462.2" y1="705.9" x2="462.2" y2="710.9"/>
<line x1="470.5" y1="705.9" x2="470.5" y2="710.9"/>
<line x1="477.9" y1="705.9" x2="477.9" y2="714.5"/>
<line x1="526.7" y1="705.9" x2="526.7" y2="710.9"/>
<line x1="555.3" y1="705.9" x2="555.3" y2="710.9"/>
<line x1="575.5" y1="705.9" x2="575.5" y2="710.9"/>
<line x1="591.2" y1="705.9" x2="591.2" y2="710.9"/>
<line x1="604.1" y1="705.9" x2="604.1" y2="710.9"/>
<line x1="614.9" y1="705.9" x2="614.9" y2="710.9"/>
<line x1="624.3" y1="705.9" x2="624.3" y2="710.9"/>
</g>
<defs><path id="d0" d="M42 358 A236 370 0 1 0 514 358 A236 370 0 1 0 42 358 Z M137 358 A141 293 0 1 1 419 358 A141 293 0 1 1 137 358 Z"/><path id="d1" d="M372 0 L284 0 L284 560 C252 530 170 482 109 458 L109 543 C200 586 290 660 315 716 L372 716 Z"/><path id="dd" d="M91 0 H193 V102 H91 Z"/><path id="d2" class="sd" d="M80 520 C88 640 170 684 275 684 C388 684 466 620 466 525 C466 440 405 375 300 285 C195 195 110 125 84 44 L502 44"/><path id="d3" class="sd" d="M82 535 C97 640 170 684 265 684 C370 684 440 625 440 540 C440 450 370 396 250 394 C380 392 472 330 472 212 C472 100 385 32 275 32 C160 32 87 92 72 195"/><path id="d4" class="sd" d="M372 0 L372 640 L60 212 L524 212"/><path id="d5" class="sd" d="M458 672 L160 672 L108 372 C155 412 212 434 280 434 C400 434 476 350 476 236 C476 110 390 32 275 32 C165 32 92 92 77 190"/><path id="d6" class="sd" d="M455 545 C440 640 372 684 292 684 C162 684 88 560 88 340 C88 130 162 32 287 32 C397 32 472 115 472 235 C472 355 397 428 292 428 C192 428 104 360 92 290"/><path id="d7" class="sd" d="M52 672 L478 672 C350 520 245 300 212 0"/><g id="rhox"><ellipse cx="92.3" cy="305.2" rx="5.65" ry="6.8" fill="none" stroke="#000" stroke-width="1.9"/><path d="M86.6 303.5 L85.2 318.5" fill="none" stroke="#000" stroke-width="2.1"/><path d="M107.4 287.2 C103.3 292.5 101.5 298 101.5 303.1 C101.5 308.2 103.3 313.7 107.4 319 L109.3 319 C106.0 313.5 104.4 308.2 104.4 303.1 C104.4 298 106.0 292.7 109.3 287.2 Z"/><path d="M111.6 295 L115.0 295 L126.8 312 L123.4 312 Z M122.9 295 L126.2 295 L114.5 312 L110.9 312 Z"/><path d="M131.1 287.2 C135.2 292.5 137.0 298 137.0 303.1 C137.0 308.2 135.2 313.7 131.1 319 L129.2 319 C132.5 313.5 134.1 308.2 134.1 303.1 C134.1 298 132.5 292.7 129.2 287.2 Z"/></g></defs>
<g aria-label="0.1" transform="translate(115.99,474.45) scale(0.01730,-0.01730)"><use href="#d0" x="0"/><use href="#dd" x="556"/><use href="#d1" x="834"/></g>
<g aria-label="0.01" transform="translate(106.37,710.25) scale(0.01730,-0.01730)"><use href="#d0" x="0"/><use href="#dd" x="556"/><use href="#d0" x="834"/><use href="#d1" x="1390"/></g>
<g aria-label="1" transform="translate(149.29,732.60) scale(0.01730,-0.01730)"><use href="#d1" x="0"/></g>
<g aria-label="10" transform="translate(306.63,732.60) scale(0.01730,-0.01730)"><use href="#d1" x="0"/><use href="#d0" x="556"/></g>
<g aria-label="100" transform="translate(463.97,732.60) scale(0.01730,-0.01730)"><use href="#d1" x="0"/><use href="#d0" x="556"/><use href="#d0" x="1112"/></g>
<path aria-label="X" d="M403.8 738.9 L406.9 738.9 L418.9 756.55 L415.8 756.55 Z M415.3 738.9 L418.2 738.9 L406.0 756.55 L403.0 756.55 Z"/>
<use href="#rhox" aria-label="ρ(x)"/>
<polyline points="530.3,485.2 554.1,497.3 567.9,503.7 577.8,508.0 585.4,513.0 591.7,516.2 597.0,517.4 601.6,519.0 605.6,521.0 609.2,522.5 612.5,525.4 615.4,524.3 618.2,526.5 620.7,528.1 623.1,529.4 625.3,530.2" fill="none" stroke="#000000" stroke-width="0.7" stroke-linejoin="round"/>
<polyline points="530.3,511.4 554.1,517.4 567.9,522.2 577.8,524.3 585.4,526.2 591.7,527.8 597.0,529.4 601.6,530.5 605.6,529.4 609.2,531.8 612.5,534.2 615.4,535.3 618.2,535.5 620.7,535.5 623.1,535.3 625.3,535.3" fill="none" stroke="#ff0000" stroke-width="0.7" stroke-linejoin="round"/>
<polyline points="530.3,582.5 554.1,574.2 567.9,569.5 577.8,566.4 585.4,564.1 591.7,562.4 597.0,561.1 601.6,560.0 605.6,558.9 609.2,558.0 612.5,557.1 615.4,556.2 618.2,555.4 620.7,554.6 623.1,553.8 625.3,553.2" fill="none" stroke="#00ff00" stroke-width="0.7" stroke-linejoin="round"/>
<polyline points="530.3,642.3 554.1,624.5 567.9,616.2 577.8,610.1 585.4,599.3 591.7,596.9 597.0,594.8 601.6,592.9 605.6,585.2 609.2,585.7 612.5,582.5 615.4,580.9 618.2,579.7 620.7,578.0 623.1,573.6 625.3,572.0" fill="none" stroke="#0000ff" stroke-width="0.7" stroke-linejoin="round"/>
<g stroke="#000" fill="none">
<line x1="512.5" y1="471.1" x2="512.5" y2="658.9" stroke-width="1.35"/>
<line x1="511.8" y1="658.3" x2="623" y2="658.3" stroke-width="1.2"/>
<g stroke-width="1">
<line x1="510.2" y1="649.6" x2="512.5" y2="649.6"/>
<line x1="510.2" y1="638.7" x2="512.5" y2="638.7"/>
<line x1="508.2" y1="629.2" x2="512.5" y2="629.2"/>
<line x1="510.2" y1="620.7" x2="512.5" y2="620.7"/>
<line x1="510.2" y1="612.9" x2="512.5" y2="612.9"/>
<line x1="510.2" y1="605.9" x2="512.5" y2="605.9"/>
<line x1="510.2" y1="599.4" x2="512.5" y2="599.4"/>
<line x1="510.2" y1="593.4" x2="512.5" y2="593.4"/>
<line x1="510.2" y1="587.8" x2="512.5" y2="587.8"/>
<line x1="510.2" y1="582.6" x2="512.5" y2="582.6"/>
<line x1="510.2" y1="577.7" x2="512.5" y2="577.7"/>
<line x1="508.2" y1="573.1" x2="512.5" y2="573.1"/>
<line x1="510.2" y1="568.7" x2="512.5" y2="568.7"/>
<line x1="510.2" y1="564.5" x2="512.5" y2="564.5"/>
<line x1="510.2" y1="560.6" x2="512.5" y2="560.6"/>
<line x1="510.2" y1="556.8" x2="512.5" y2="556.8"/>
<line x1="510.2" y1="553.2" x2="512.5" y2="553.2"/>
<line x1="510.2" y1="549.8" x2="512.5" y2="549.8"/>
<line x1="510.2" y1="546.5" x2="512.5" y2="546.5"/>
<line x1="510.2" y1="543.3" x2="512.5" y2="543.3"/>
<line x1="508.2" y1="540.2" x2="512.5" y2="540.2"/>
<line x1="510.2" y1="537.3" x2="512.5" y2="537.3"/>
<line x1="510.2" y1="534.4" x2="512.5" y2="534.4"/>
<line x1="510.2" y1="531.7" x2="512.5" y2="531.7"/>
<line x1="510.2" y1="529.0" x2="512.5" y2="529.0"/>
<line x1="510.2" y1="526.5" x2="512.5" y2="526.5"/>
<line x1="510.2" y1="524.0" x2="512.5" y2="524.0"/>
<line x1="510.2" y1="521.5" x2="512.5" y2="521.5"/>
<line x1="510.2" y1="519.2" x2="512.5" y2="519.2"/>
<line x1="508.2" y1="516.9" x2="512.5" y2="516.9"/>
<line x1="510.2" y1="514.7" x2="512.5" y2="514.7"/>
<line x1="510.2" y1="512.5" x2="512.5" y2="512.5"/>
<line x1="510.2" y1="510.4" x2="512.5" y2="510.4"/>
<line x1="510.2" y1="508.4" x2="512.5" y2="508.4"/>
<line x1="510.2" y1="506.4" x2="512.5" y2="506.4"/>
<line x1="510.2" y1="504.4" x2="512.5" y2="504.4"/>
<line x1="510.2" y1="502.5" x2="512.5" y2="502.5"/>
<line x1="510.2" y1="500.7" x2="512.5" y2="500.7"/>
<line x1="508.2" y1="498.8" x2="512.5" y2="498.8"/>
<line x1="510.2" y1="497.1" x2="512.5" y2="497.1"/>
<line x1="510.2" y1="495.3" x2="512.5" y2="495.3"/>
<line x1="510.2" y1="493.6" x2="512.5" y2="493.6"/>
<line x1="510.2" y1="491.9" x2="512.5" y2="491.9"/>
<line x1="510.2" y1="490.3" x2="512.5" y2="490.3"/>
<line x1="510.2" y1="488.7" x2="512.5" y2="488.7"/>
<line x1="510.2" y1="487.1" x2="512.5" y2="487.1"/>
<line x1="510.2" y1="485.6" x2="512.5" y2="485.6"/>
<line x1="508.2" y1="484.1" x2="512.5" y2="484.1"/>
<line x1="510.2" y1="482.6" x2="512.5" y2="482.6"/>
<line x1="510.2" y1="481.1" x2="512.5" y2="481.1"/>
<line x1="510.2" y1="479.7" x2="512.5" y2="479.7"/>
<line x1="510.2" y1="478.3" x2="512.5" y2="478.3"/>
<line x1="510.2" y1="476.9" x2="512.5" y2="476.9"/>
<line x1="510.2" y1="475.5" x2="512.5" y2="475.5"/>
<line x1="510.2" y1="474.2" x2="512.5" y2="474.2"/>
<line x1="510.2" y1="472.9" x2="512.5" y2="472.9"/>
<line x1="508.2" y1="471.6" x2="512.5" y2="471.6"/>
<line x1="512.8" y1="658.3" x2="512.8" y2="660.6"/>
<line x1="518.1" y1="658.3" x2="518.1" y2="660.6"/>
<line x1="522.7" y1="658.3" x2="522.7" y2="660.6"/>
<line x1="526.7" y1="658.3" x2="526.7" y2="660.6"/>
<line x1="530.3" y1="658.3" x2="530.3" y2="662.0"/>
<line x1="554.1" y1="658.3" x2="554.1" y2="660.6"/>
<line x1="567.9" y1="658.3" x2="567.9" y2="660.6"/>
<line x1="577.8" y1="658.3" x2="577.8" y2="660.6"/>
<line x1="585.4" y1="658.3" x2="585.4" y2="660.6"/>
<line x1="591.7" y1="658.3" x2="591.7" y2="660.6"/>
<line x1="597.0" y1="658.3" x2="597.0" y2="660.6"/>
<line x1="601.6" y1="658.3" x2="601.6" y2="660.6"/>
<line x1="605.6" y1="658.3" x2="605.6" y2="660.6"/>
<line x1="609.2" y1="658.3" x2="609.2" y2="662.0"/>
</g></g>
<g aria-label="0.1" transform="translate(497.02,631.80) scale(0.00790,-0.00790)"><use href="#d0" x="0"/><use href="#dd" x="556"/><use href="#d1" x="834"/></g>
<g aria-label="0.2" transform="translate(496.01,575.66) scale(0.00790,-0.00790)"><use href="#d0" x="0"/><use href="#dd" x="556"/><use href="#d2" x="834"/></g>
<g aria-label="0.3" transform="translate(496.01,542.82) scale(0.00790,-0.00790)"><use href="#d0" x="0"/><use href="#dd" x="556"/><use href="#d3" x="834"/></g>
<g aria-label="0.4" transform="translate(496.01,519.52) scale(0.00790,-0.00790)"><use href="#d0" x="0"/><use href="#dd" x="556"/><use href="#d4" x="834"/></g>
<g aria-label="0.5" transform="translate(496.01,501.44) scale(0.00790,-0.00790)"><use href="#d0" x="0"/><use href="#dd" x="556"/><use href="#d5" x="834"/></g>
<g aria-label="0.6" transform="translate(496.01,486.67) scale(0.00790,-0.00790)"><use href="#d0" x="0"/><use href="#dd" x="556"/><use href="#d6" x="834"/></g>
<g aria-label="0.7" transform="translate(496.01,474.19) scale(0.00790,-0.00790)"><use href="#d0" x="0"/><use href="#dd" x="556"/><use href="#d7" x="834"/></g>
<g aria-label="1" transform="translate(527.90,670.00) scale(0.00790,-0.00790)"><use href="#d1" x="0"/></g>
<g aria-label="10" transform="translate(604.61,670.00) scale(0.00790,-0.00790)"><use href="#d1" x="0"/><use href="#d0" x="556"/></g>
<use href="#rhox" aria-label="ρ(x)" transform="translate(441.90,404.26) scale(0.345)"/>
</svg></body></html>
